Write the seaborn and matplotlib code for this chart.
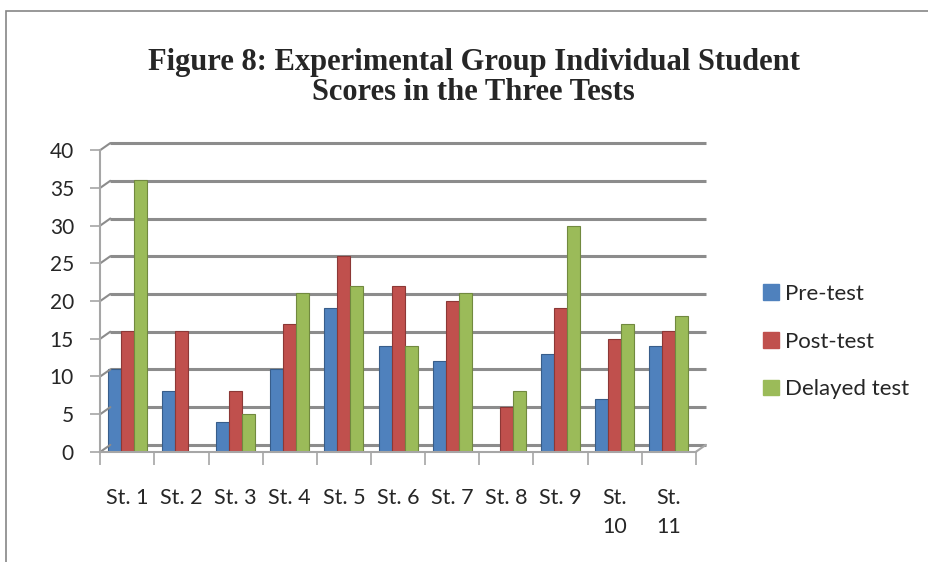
import numpy as np
import pandas as pd
import matplotlib
matplotlib.use("Agg")
import matplotlib.pyplot as plt
import matplotlib.patches as mpatches
from matplotlib.transforms import ScaledTranslation
import seaborn as sns

students = ["St. 1", "St. 2", "St. 3", "St. 4", "St. 5", "St. 6",
            "St. 7", "St. 8", "St. 9", "St.\n10", "St.\n11"]
pre_test = [11, 8, 4, 11, 19, 14, 12, 0, 13, 7, 14]
post_test = [16, 16, 8, 17, 26, 22, 20, 6, 19, 15, 16]
delayed_test = [36, 0, 5, 21, 22, 14, 21, 8, 30, 17, 18]
series_names = ["Pre-test", "Post-test", "Delayed test"]
colors = ["#4F81BD", "#C0504D", "#9BBB59"]
edges = ["#385D8A", "#8C3836", "#71893F"]

df = pd.DataFrame({"Student": students * 3,
                   "Test": np.repeat(series_names, len(students)),
                   "Score": pre_test + post_test + delayed_test})

sns.set_style("white")
plt.rcParams["font.family"] = ["Lato", "DejaVu Sans"]

fig = plt.figure(figsize=(9.29, 5.62), dpi=100)
ax = fig.add_axes([0.108, 0.196, 0.641, 0.537])

sns.barplot(data=df, x="Student", y="Score", hue="Test", palette=colors,
            width=0.72, ax=ax, legend=False, saturation=1)

# darker edge per series
for i, cont in enumerate(ax.containers):
    for bar in cont:
        bar.set_edgecolor(edges[i])
        bar.set_linewidth(0.8)
        bar.set_zorder(3)

n = len(students)
ax.set_ylim(0, 40)
ax.set_xlim(-0.5, n - 0.5)
ax.set_yticks(range(0, 41, 5))
ax.set_xlabel("")
ax.set_ylabel("")

# pseudo 3D back wall gridlines, shifted up-right
grid_col = "#8C8C8C"
back = ax.transData + ScaledTranslation(0.10, 0.07, fig.dpi_scale_trans)
for y in range(0, 41, 5):
    ax.plot([-0.5, n - 0.5], [y, y], color=grid_col, lw=2.2, transform=back,
            clip_on=False, zorder=1, solid_capstyle="butt")
    ax.annotate("", xy=(-0.5, y), xytext=(10, 7), textcoords="offset pixels",
                arrowprops=dict(arrowstyle="-", color=grid_col, lw=1.5,
                                shrinkA=0, shrinkB=0), annotation_clip=False)
ax.annotate("", xy=(n - 0.5, 0), xytext=(10, 7), textcoords="offset pixels",
            arrowprops=dict(arrowstyle="-", color="#A6A6A6", lw=1.5,
                            shrinkA=0, shrinkB=0), annotation_clip=False)

for s in ["top", "right"]:
    ax.spines[s].set_visible(False)
for s in ["left", "bottom"]:
    ax.spines[s].set_color("#A6A6A6")
    ax.spines[s].set_linewidth(1.5)
    ax.spines[s].set_zorder(4)

ax.tick_params(axis="y", labelsize=15, length=7, color="#A6A6A6", width=1.2,
               left=True, pad=12)
ax.tick_params(axis="x", labelsize=15.5, length=0, pad=26)
for lab in ax.get_xticklabels():
    lab.set_linespacing(1.55)
    lab.set_verticalalignment("top")
ax.set_xticks(np.arange(-0.5, n, 1), minor=True)
ax.tick_params(axis="x", which="minor", length=9, color="#A6A6A6", width=1.2,
               bottom=True)

handles = [mpatches.Patch(facecolor=c, edgecolor=c, label=s)
           for c, s in zip(colors, series_names)]
fig.legend(handles=handles, loc="center left", bbox_to_anchor=(0.812, 0.392),
           frameon=False, fontsize=16, labelspacing=1.25, handlelength=0.7,
           handleheight=0.7, handletextpad=0.3, borderaxespad=0)

fig.suptitle("Figure 8: Experimental Group Individual Student\nScores in the Three Tests",
             x=0.51, y=0.915, fontsize=22, fontweight="bold",
             family="Liberation Serif", linespacing=1.05)

# chart area border
fig.patches.append(mpatches.Rectangle((6 / 929, -0.1), 1.2, 1.1 - 11 / 562,
                                      transform=fig.transFigure, fill=False,
                                      edgecolor="#868686", linewidth=1.2))

fig.savefig("out.png", dpi=100)
